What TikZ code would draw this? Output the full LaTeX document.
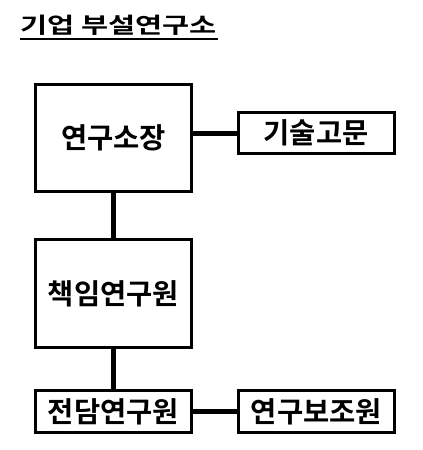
\documentclass[tikz,border=0pt]{standalone}
\usepackage{fontspec}
\setmainfont{Noto Sans CJK KR}[BoldFont={* Bold}]
\newfontfamily\kr{Noto Sans CJK KR Bold}
\begin{document}
\begin{tikzpicture}[x=1pt,y=-1pt,
  box/.style={draw=black,line width=3pt,minimum width=156pt,inner sep=0pt,font=\kr\fontsize{28.5}{32}\selectfont},
  conn/.style={line width=5pt}]
\useasboundingbox (0,0) rectangle (423,450);
\node[font=\kr\fontsize{22}{26}\selectfont,anchor=base west,inner sep=0pt] (title) at (20,33) {\scalebox{1.34}[1]{기업 부설연구소}};
\draw[line width=2pt] (20,39) coordinate (ul1) -- (218,39) coordinate (ul2);
\node[box,minimum height=107pt] (a) at (113.5,138) {연구소장};
\node[box,minimum height=41pt] (t) at (316,133) {기술고문};
\node[box,minimum height=108pt] (b) at (113.5,293.5) {책임연구원};
\node[box,minimum height=42pt] (c) at (113.5,411.5) {전담연구원};
\node[box,minimum height=42pt] (d) at (316.5,411.5) {연구보조원};
\draw[conn] (a.east |- t.west) -- (t.west);
\draw[conn] (a.south) -- (b.north);
\draw[conn] (b.south) -- (c.north);
\draw[conn] (c.east) -- (d.west);
\end{tikzpicture}
\end{document}
